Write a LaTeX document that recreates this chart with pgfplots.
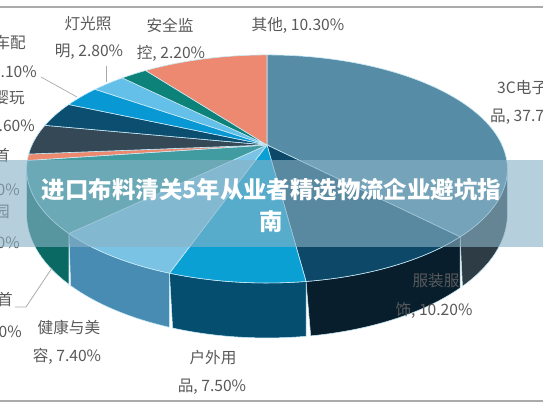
\documentclass[border=0pt]{standalone}
\usepackage{pgfplots}
\pgfplotsset{compat=1.18}
\usepackage{pgfplotstable}
\usepackage{fontspec}
\setmainfont{Noto Sans CJK SC}
\definecolor{pc0}{RGB}{86,140,165}
\definecolor{pc1}{RGB}{14,72,105}
\definecolor{pc2}{RGB}{10,160,212}
\definecolor{pc3}{RGB}{122,195,228}
\definecolor{pc4}{RGB}{64,156,160}
\definecolor{pc5}{RGB}{236,137,110}
\definecolor{pc6}{RGB}{52,72,86}
\definecolor{pc7}{RGB}{12,78,112}
\definecolor{pc8}{RGB}{8,152,212}
\definecolor{pc9}{RGB}{100,192,232}
\definecolor{pc10}{RGB}{12,130,120}
\definecolor{pc11}{RGB}{236,137,112}
\definecolor{sd0}{RGB}{46,60,70}
\definecolor{sd1}{RGB}{8,30,45}
\definecolor{sd2}{RGB}{5,78,112}
\definecolor{sd3}{RGB}{72,140,180}
\definecolor{sd4}{RGB}{10,105,98}
\definecolor{rimc}{RGB}{200,235,248}
\definecolor{lbl}{RGB}{89,89,89}
\definecolor{lead}{RGB}{170,170,170}
\definecolor{bannerc}{RGB}{137,178,198}
\pgfplotstableread{
v
37.7
10.2
7.5
7.4
10.0
0.9
4.3
3.6
3.1
2.8
2.2
10.3
}\piedata
\begin{document}
\begin{tikzpicture}
\begin{axis}[name=ax, width=543bp, height=408bp, scale only axis,
  xmin=0, xmax=543, ymin=0, ymax=408, y dir=reverse, hide axis, clip=false,
  declare function={px(\t)=267+235*sin(\t)/(1+0.21*cos(\t));
                    py(\t)=145-109*cos(\t)/(1+0.21*cos(\t));
                    hh(\t)=43.4/(1+0.21*cos(\t));}]
\fill[white] (axis cs:0,0) rectangle (axis cs:543,408);
% side walls
\gdef\ta{0}
\pgfplotsforeachungrouped \i in {0,...,11}{%
  \pgfplotstablegetelem{\i}{v}\of\piedata
  \pgfmathsetmacro\tb{\ta+3.6*\pgfplotsretval}%
  \pgfmathsetmacro\wa{max(\ta,102.1)}%
  \pgfmathsetmacro\wb{min(\tb,257.9)}%
  \pgfmathsetmacro\wc{2*\wb-\wa}%
  \pgfmathtruncatemacro\dowall{\wb>\wa+0.01 ? 1 : 0}%
  \ifnum\dowall=1
    \edef\cmd{\noexpand\addplot[fill=sd\i, draw=rimc, line width=0.5pt, domain=\wa:\wc, samples=81, variable=\noexpand\t]
      ({px(min(\noexpand\t,2*\wb-\noexpand\t))},{py(min(\noexpand\t,2*\wb-\noexpand\t))+(\noexpand\t>\wb)*hh(min(\noexpand\t,2*\wb-\noexpand\t))}) -- cycle;}%
    \cmd
  \fi
  \global\let\ta\tb
}
% top faces
\gdef\ta{0}
\pgfplotsforeachungrouped \i in {0,...,11}{%
  \pgfplotstablegetelem{\i}{v}\of\piedata
  \pgfmathsetmacro\tb{\ta+3.6*\pgfplotsretval}%
  \pgfmathtruncatemacro\ns{max(4,(\tb-\ta)/1.5)}%
  \edef\cmd{\noexpand\addplot[fill=pc\i, draw=rimc, line width=0.6pt, domain=\ta:\tb, samples=\ns, variable=\noexpand\t]
    ({px(\noexpand\t)},{py(\noexpand\t)}) -- (axis cs:267,145) -- cycle;}%
  \cmd
  \global\let\ta\tb
}
% leader lines
\draw[lead, line width=0.7pt] (axis cs:41,77) -- (axis cs:77,97);
\draw[lead, line width=0.7pt] (axis cs:106,66) -- (axis cs:106,82);
\draw[lead, line width=0.7pt] (axis cs:15,307) -- (axis cs:26,307) -- (axis cs:52,268);
% labels
\tikzset{lb/.style={text=lbl, font=\fontsize{15.7}{18}\selectfont, inner sep=0pt}}
\node[lb] at (axis cs:298,25) {其他, 10.30\%};
\node[lb] at (axis cs:170,25) {安全监};
\node[lb] at (axis cs:171,53) {控, 2.20\%};
\node[lb] at (axis cs:88,24) {灯光照};
\node[lb] at (axis cs:89,52) {明, 2.80\%};
\node[lb, anchor=east] at (axis cs:26,43) {汽车配};
\node[lb, anchor=east] at (axis cs:37,72) {件, 3.10\%};
\node[lb, anchor=east] at (axis cs:25,98) {母婴玩};
\node[lb, anchor=east] at (axis cs:35,127) {具, 3.60\%};
\node[lb, anchor=east] at (axis cs:10,155) {珠宝首};
\node[lb, anchor=east] at (axis cs:20,190) {饰, 4.30\%};
\node[lb, anchor=east] at (axis cs:10,212) {家居园};
\node[lb, anchor=east] at (axis cs:20,243) {艺, 0.90\%};
\node[lb, anchor=east] at (axis cs:13,300) {时尚首};
\node[lb, anchor=east] at (axis cs:22,332) {饰, 10.00\%};
\node[lb] at (axis cs:69,327) {健康与美};
\node[lb] at (axis cs:67,356) {容, 7.40\%};
\node[lb] at (axis cs:213,358) {户外用};
\node[lb] at (axis cs:212,387) {品, 7.50\%};
\node[lb] at (axis cs:436,281) {服装服};
\node[lb] at (axis cs:434,310) {饰, 10.20\%};
\node[lb, anchor=west] at (axis cs:497,88) {3C电子产};
\node[lb, anchor=west] at (axis cs:490,117) {品, 37.70\%};
% banner
\fill[bannerc, opacity=0.61] (axis cs:0,160) rectangle (axis cs:543,247);
\node[text=white, font=\bfseries\fontsize{23.5}{28}\selectfont, inner sep=0pt] at (axis cs:271.5,190) {进口布料清关5年从业者精选物流企业避坑指};
\node[text=white, font=\bfseries\fontsize{23.5}{28}\selectfont, inner sep=0pt] at (axis cs:271.5,222) {南};
% frame lines
\draw[lead, line width=1.5pt] (axis cs:0,7) -- (axis cs:543,7);
\draw[lead, line width=1.5pt] (axis cs:0,401) -- (axis cs:543,401);
\end{axis}
\pgfresetboundingbox
\path (ax.south west) rectangle (ax.north east);
\end{tikzpicture}
\end{document}
